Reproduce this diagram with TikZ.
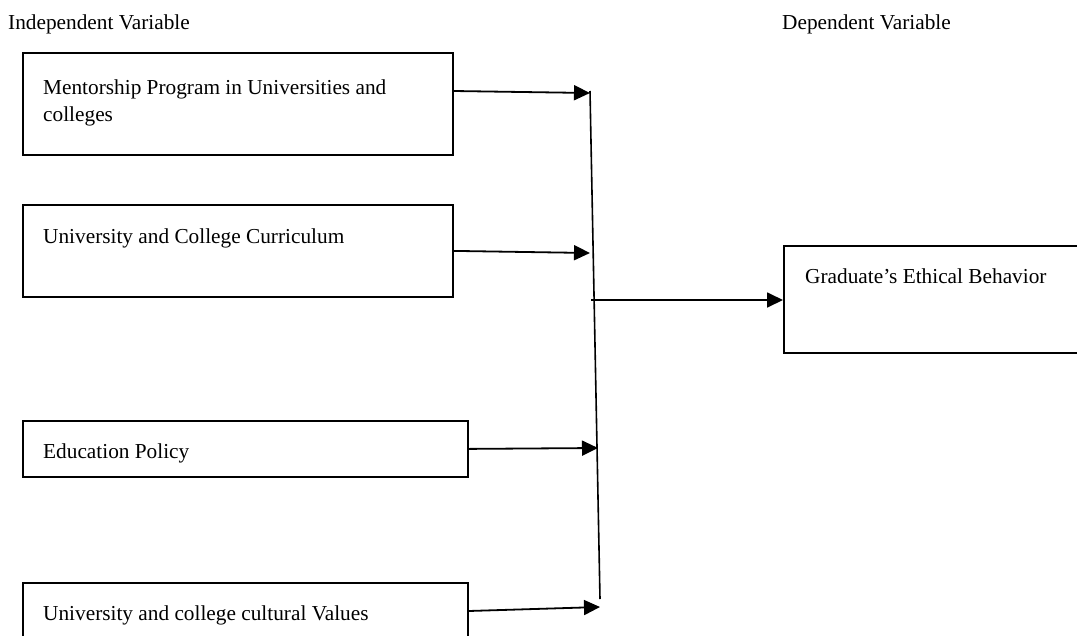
\documentclass[tikz,border=0pt]{standalone}
\usepackage{fontspec}
\setmainfont{Liberation Serif}
\usetikzlibrary{arrows.meta,calc}
\begin{document}
\begin{tikzpicture}[x=1pt,y=-1pt,
  box/.style={draw=black,line width=1.8pt,anchor=north west,inner sep=0pt},
  lbl/.style={anchor=base west,inner sep=0pt,font=\fontsize{21.3}{27}\selectfont},
  arr/.style={line width=1.8pt,-{Triangle[length=16pt,width=15pt]}},
  trunk/.style={line width=1.6pt}]
\clip (0,0) rectangle (1077,635);
\fill[white] (0,0) rectangle (1077,635);
% headings
\node[lbl] (indep) at (8,29) {Independent Variable};
\node[lbl] (dep) at (782,29) {Dependent Variable};
% boxes
\node[box,minimum width=430pt,minimum height=102pt] (b1) at (22,52) {};
\node[box,minimum width=430pt,minimum height=92pt] (b2) at (22,204) {};
\node[box,minimum width=445pt,minimum height=56pt] (b3) at (22,420) {};
\node[box,minimum width=445pt,minimum height=80pt] (b4) at (22,582) {};
\node[box,minimum width=330pt,minimum height=107pt] (g) at (783,245) {};
% box texts
\node[lbl] (tb1) at (43,94) {\begin{tabular}[t]{@{}l@{}}Mentorship Program in Universities and\\colleges\end{tabular}};
\node[lbl] (tb2) at (43,243) {University and College Curriculum};
\node[lbl] (tb3) at (43,458) {Education Policy};
\node[lbl] (tb4) at (43,620) {University and college cultural Values};
\node[lbl] (tg) at (805,283) {Graduate’s Ethical Behavior};
% junction coordinates
\coordinate (top) at (590,91);
\coordinate (bot) at (600,599);
\coordinate (j1) at (590,93);
\coordinate (j2) at (590,253);
\coordinate (j3) at (598,448);
\coordinate (j4) at (600,607);
\coordinate (j5) at (591,300);
\coordinate (s1) at ($(b1.north east)+(0,39)$);
\coordinate (s4) at ($(b4.north east)+(0,29)$);
% connectors
\draw[trunk] (top) -- (bot);
\draw[arr] (s1) -- (j1);
\draw[arr] (b2.east) -- (j2);
\draw[arr] (b3.east) -- (j3);
\draw[arr] (s4) -- (j4);
\draw[arr] (j5) -- (g.west |- j5);
\end{tikzpicture}
\end{document}
